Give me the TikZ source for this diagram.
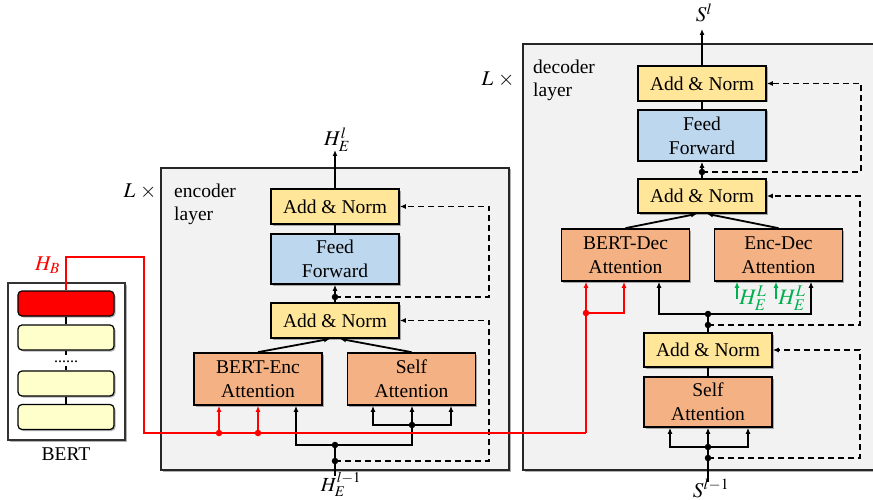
\documentclass[tikz,border=0pt]{standalone}
\usepackage{mathptmx}
\usepackage{fontspec}
\setmainfont{Liberation Serif}
\usetikzlibrary{arrows.meta,shadows,calc}
\definecolor{anc}{HTML}{FFE699}
\definecolor{ffc}{HTML}{BDD7EE}
\definecolor{atc}{HTML}{F4B183}
\definecolor{bgc}{HTML}{F2F2F2}
\definecolor{cream}{HTML}{FFFFCC}
\definecolor{grn}{HTML}{00B050}
\begin{document}
\begin{tikzpicture}[x=1pt,y=-1pt,
 shd/.style={drop shadow={shadow xshift=1.5pt,shadow yshift=-1.5pt,opacity=0.3,fill=black}},
 blk/.style={draw=black,line width=1.7pt,inner sep=0pt,align=center,font=\fontsize{19.5}{24}\selectfont,minimum width=128pt,shd},
 anbox/.style={blk,fill=anc,minimum height=35pt},
 ffbox/.style={blk,fill=ffc,minimum height=50pt},
 attbox/.style={blk,fill=atc,minimum height=52pt},
 frm/.style={draw=black!85,line width=1.8pt,fill=bgc,shd},
 lay/.style={draw=black,line width=1.2pt,rounded corners=4pt,minimum width=96pt,minimum height=25pt,inner sep=0pt,fill=cream,shd},
 ln/.style={line width=1.8pt},
 arr/.style={ln,-{Latex[length=6pt,width=5pt]}},
 dsh/.style={line width=1.8pt,dash pattern=on 6pt off 4pt},
 darr/.style={dsh,-{Latex[length=6pt,width=5pt]}},
 jdot/.style={circle,fill=#1,inner sep=0pt,minimum size=6.5pt},
 jdot/.default=black,
 lbl/.style={font=\fontsize{19.5}{23}\selectfont,inner sep=0pt},
 mth/.style={font=\fontsize{21}{24}\selectfont,inner sep=0pt,anchor=base},
]
\useasboundingbox (0,0) rectangle (873,500);

% frames
\draw[frm] (161,168) rectangle (509,470);
\draw[frm] (523,44) rectangle (890,470);
\draw[draw=black!80,line width=1.4pt,fill=white,shd] (8,283) rectangle (125,440);

% frame labels
\node[lbl,anchor=north west,align=left] (enclbl) at (174,184) {encoder\\layer};
\node[lbl,anchor=north west,align=left] (declbl) at (533,60) {decoder\\layer};
\node[mth] (encL) at (140,197) {$L\;\times$};
\node[mth] (decL) at (498,86) {$L\;\times$};

% BERT
\node[lay,fill=red] (L1) at (66,303.5) {};
\node[lay] (L2) at (66,337.5) {};
\node[lay] (L3) at (66,383.5) {};
\node[lay] (L4) at (66,417) {};
\node[font=\fontsize{16}{16}\selectfont,inner sep=0pt,anchor=base] (bdots) at (66,362) {......};
\coordinate (bd1) at (66,355);
\coordinate (bd2) at (66,366);
\draw[line width=1.2pt] (L1.south) -- (L2.north);
\draw[line width=1.2pt] (L2.south) -- (bd1);
\draw[line width=1.2pt] (bd2) -- (L3.north);
\draw[line width=1.2pt] (L3.south) -- (L4.north);
\node[lbl,anchor=base] (bertlbl) at (66,460) {BERT};
\node[mth,text=red] (HB) at (47.5,270) {$H_B$};

% encoder
\node[anbox] (eA2) at (335,206.5) {Add \& Norm};
\node[ffbox] (eF) at (335,259) {Feed\\Forward};
\node[anbox] (eA1) at (335,320.5) {Add \& Norm};
\node[attbox] (eB) at (258,379) {BERT-Enc\\Attention};
\node[attbox] (eS) at (411.5,379) {Self\\Attention};

\coordinate (eOut) at (335,150);
\coordinate (eD1) at (335,297);
\coordinate (eC1) at (489,297);
\coordinate (eIn) at (335,476);
\coordinate (eR) at (335,461);
\coordinate (eC2) at (489,461);
\coordinate (eJ) at (335,445);
\coordinate (eJ2) at (412,425);

\draw[arr] (eA2.north) -- (eOut);
\draw[ln] (eF.north) -- (eA2.south);
\draw[arr] (eA1.north) -- (eF.south);
\draw[darr] (eD1) -- (eC1) |- (eA2.east);
\draw[arr] (eB.north) -- ([xshift=-5pt]eA1.south);
\draw[arr] (eS.north) -- ([xshift=5pt]eA1.south);
\draw[ln] (eIn) -- (eJ);
\draw[arr] (eJ) -| ([xshift=38pt]eB.south);
\draw[ln] (eJ) -| (eJ2);
\draw[arr] (eJ2) -- (eJ2 |- eS.south);
\draw[arr] (eJ2) -| ([xshift=-38.5pt]eS.south);
\draw[arr] (eJ2) -| ([xshift=39.5pt]eS.south);
\draw[darr] (eR) -- (eC2) |- (eA1.east);
\foreach \p in {eD1,eR,eJ,eJ2} \node[jdot] at (\p) {};

\node[mth] (HEl) at (337,146) {$H_E^l$};
\node[mth,font=\fontsize{20}{24}\selectfont] (HEl1) at (341,491) {$H_E^{l-1}$};

% decoder
\node[anbox] (dA3) at (702,83.5) {Add \& Norm};
\node[ffbox,minimum height=51pt] (dF) at (702,135.5) {Feed\\Forward};
\node[anbox,minimum height=34pt] (dA2) at (702,196) {Add \& Norm};
\node[attbox] (dB) at (625.5,255) {BERT-Dec\\Attention};
\node[attbox] (dE) at (778.5,255) {Enc-Dec\\Attention};
\node[anbox,minimum height=34pt] (dA1) at (708,350) {Add \& Norm};
\node[attbox,minimum height=50pt] (dS) at (708,402) {Self\\Attention};

\coordinate (dOut) at (702,29);
\coordinate (dD1) at (702,172);
\coordinate (dC1) at (861,172);
\coordinate (dIn) at (708,482);
\coordinate (dR2) at (708,458);
\coordinate (dC3) at (860,458);
\coordinate (dJ2) at (708,447);
\coordinate (dR1) at (708,325);
\coordinate (dC2) at (860,325);
\coordinate (dJ1) at (708,314);

\draw[arr] (dA3.north) -- (dOut);
\draw[ln] (dF.north) -- (dA3.south);
\draw[arr] (dA2.north) -- (dF.south);
\draw[darr] (dD1) -- (dC1) |- (dA3.east);
\draw[arr] (dB.north) -- ([xshift=-5pt]dA2.south);
\draw[arr] (dE.north) -- ([xshift=5pt]dA2.south);
\draw[ln] (dIn) -- (dJ2);
\draw[arr] (dJ2) -- (dS.south);
\draw[arr] (dJ2) -| ([xshift=-38pt]dS.south);
\draw[arr] (dJ2) -| ([xshift=40pt]dS.south);
\draw[darr] (dR2) -- (dC3) |- (dA1.east);
\draw[ln] (dS.north) -- (dA1.south);
\draw[ln] (dA1.north) -- (dJ1);
\draw[arr] (dJ1) -| ([xshift=33.5pt]dB.south);
\draw[arr] (dJ1) -| ([xshift=32.5pt]dE.south);
\draw[darr] (dR1) -- (dC2) |- (dA2.east);
\foreach \p in {dD1,dR2,dJ2,dR1,dJ1} \node[jdot] at (\p) {};

% green inputs
\coordinate (g1) at (737,299);
\coordinate (g2) at (776,299);
\draw[arr,grn] (g1) -- (g1 |- dE.south);
\draw[arr,grn] (g2) -- (g2 |- dE.south);
\node[mth,text=grn,font=\fontsize{22}{24}\selectfont] (gl1) at (753,304) {$H_E^L$};
\node[mth,text=grn,font=\fontsize{22}{24}\selectfont] (gl2) at (792,304) {$H_E^L$};

\node[mth] (Sl) at (704,22) {$S^l$};
\node[mth] (Sl1) at (711,497) {$S^{l-1}$};

% red BERT path
\coordinate (bTop) at (66,257);
\coordinate (bR) at (144,257);
\coordinate (bR2) at (144,433);
\coordinate (rDec) at (586,433);
\coordinate (rE1) at (219,433);
\coordinate (rE2) at (258,433);
\coordinate (rD) at (586,313);
\draw[ln,red] (L1.north) -- (bTop) -- (bR) -- (bR2) -- (rDec);
\draw[arr,red] (rDec) -- ([xshift=-39.5pt]dB.south);
\draw[arr,red] (rD) -| ([xshift=-1.5pt]dB.south);
\draw[arr,red] (rE1) -- (rE1 |- eB.south);
\draw[arr,red] (rE2) -- (rE2 |- eB.south);
\foreach \p in {rE1,rE2,rD} \node[jdot=red] at (\p) {};
\end{tikzpicture}
\end{document}
